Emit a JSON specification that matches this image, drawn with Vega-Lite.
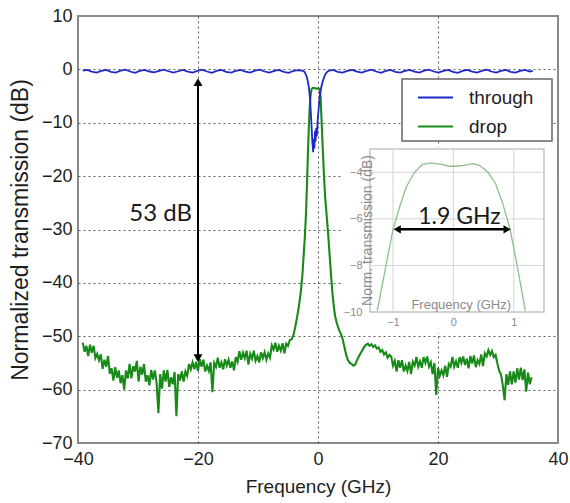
{
  "$schema": "https://vega.github.io/schema/vega-lite/v6.json",
  "width": 480,
  "height": 427,
  "autosize": {"type": "none"},
  "padding": {"left": 78, "top": 16, "right": 12, "bottom": 60},
  "background": "white",
  "config": {
    "view": {"stroke": "#8a8a8a", "strokeWidth": 2},
    "font": "Liberation Sans"
  },
  "datasets": {
    "drop": [
      {"f":-39.2,"dB":-51.2},{"f":-38.9,"dB":-52.9},{"f":-38.6,"dB":-51.8},{"f":-38.3,"dB":-53.7},{"f":-38.0,"dB":-51.6},{"f":-37.7,"dB":-53.1},{"f":-37.4,"dB":-51.8},{"f":-37.1,"dB":-54.1},{"f":-36.8,"dB":-53.3},{"f":-36.5,"dB":-54.5},{"f":-36.2,"dB":-53.4},{"f":-35.9,"dB":-56.1},{"f":-35.6,"dB":-54.4},{"f":-35.3,"dB":-55.7},{"f":-35.0,"dB":-53.7},{"f":-34.7,"dB":-57.0},{"f":-34.4,"dB":-56.0},{"f":-34.1,"dB":-58.3},{"f":-33.8,"dB":-55.8},{"f":-33.5,"dB":-57.8},{"f":-33.2,"dB":-56.4},{"f":-32.9,"dB":-58.8},{"f":-32.6,"dB":-57.3},{"f":-32.3,"dB":-60.0},{"f":-32.0,"dB":-56.4},{"f":-31.7,"dB":-57.9},{"f":-31.4,"dB":-55.2},{"f":-31.1,"dB":-57.9},{"f":-30.8,"dB":-55.6},{"f":-30.5,"dB":-56.6},{"f":-30.2,"dB":-54.6},{"f":-29.9,"dB":-58.5},{"f":-29.6,"dB":-55.7},{"f":-29.3,"dB":-57.2},{"f":-29.0,"dB":-55.2},{"f":-28.7,"dB":-58.5},{"f":-28.4,"dB":-57.3},{"f":-28.1,"dB":-59.2},{"f":-27.8,"dB":-56.3},{"f":-27.5,"dB":-58.1},{"f":-27.2,"dB":-56.4},{"f":-26.9,"dB":-58.7},{"f":-26.6,"dB":-64.4},{"f":-26.3,"dB":-57.1},{"f":-26.0,"dB":-59.8},{"f":-25.7,"dB":-56.4},{"f":-25.4,"dB":-58.5},{"f":-25.1,"dB":-56.3},{"f":-24.8,"dB":-59.5},{"f":-24.5,"dB":-57.7},{"f":-24.2,"dB":-59.0},{"f":-23.9,"dB":-56.7},{"f":-23.6,"dB":-65.0},{"f":-23.3,"dB":-57.1},{"f":-23.0,"dB":-58.3},{"f":-22.7,"dB":-56.6},{"f":-22.4,"dB":-58.5},{"f":-22.1,"dB":-56.6},{"f":-21.8,"dB":-57.4},{"f":-21.5,"dB":-55.2},{"f":-21.2,"dB":-56.2},{"f":-20.9,"dB":-54.9},{"f":-20.6,"dB":-56.2},{"f":-20.3,"dB":-54.8},{"f":-20.0,"dB":-56.5},{"f":-19.7,"dB":-54.3},{"f":-19.4,"dB":-55.7},{"f":-19.1,"dB":-54.4},{"f":-18.8,"dB":-56.6},{"f":-18.5,"dB":-55.5},{"f":-18.2,"dB":-56.5},{"f":-17.9,"dB":-54.9},{"f":-17.6,"dB":-60.5},{"f":-17.3,"dB":-55.0},{"f":-17.0,"dB":-55.7},{"f":-16.7,"dB":-54.0},{"f":-16.4,"dB":-55.9},{"f":-16.1,"dB":-54.9},{"f":-15.8,"dB":-56.2},{"f":-15.5,"dB":-54.3},{"f":-15.2,"dB":-55.5},{"f":-14.9,"dB":-54.4},{"f":-14.6,"dB":-55.9},{"f":-14.3,"dB":-54.7},{"f":-14.0,"dB":-56.4},{"f":-13.7,"dB":-53.9},{"f":-13.4,"dB":-54.8},{"f":-13.1,"dB":-52.8},{"f":-12.8,"dB":-54.4},{"f":-12.5,"dB":-53.1},{"f":-12.2,"dB":-54.1},{"f":-11.9,"dB":-52.7},{"f":-11.6,"dB":-55.3},{"f":-11.3,"dB":-53.3},{"f":-11.0,"dB":-54.2},{"f":-10.7,"dB":-52.7},{"f":-10.4,"dB":-54.6},{"f":-10.1,"dB":-53.7},{"f":-9.8,"dB":-54.9},{"f":-9.5,"dB":-53.0},{"f":-9.2,"dB":-54.1},{"f":-8.9,"dB":-53.0},{"f":-8.6,"dB":-54.4},{"f":-8.3,"dB":-53.2},{"f":-8.0,"dB":-54.0},{"f":-7.7,"dB":-51.7},{"f":-7.4,"dB":-52.5},{"f":-7.1,"dB":-51.2},{"f":-6.8,"dB":-52.9},{"f":-6.5,"dB":-51.8},{"f":-6.2,"dB":-52.7},{"f":-5.9,"dB":-51.3},{"f":-5.6,"dB":-53.2},{"f":-5.3,"dB":-51.4},{"f":-5.0,"dB":-51.8},{"f":-4.7,"dB":-50.7},{"f":-4.4,"dB":-50.6},{"f":-4.1,"dB":-49.8},
      {"f":-3.8,"dB":-48.3},{"f":-3.5,"dB":-46.5},{"f":-3.2,"dB":-44.5},{"f":-2.9,"dB":-42},{"f":-2.6,"dB":-38.5},{"f":-2.4,"dB":-35},{"f":-2.2,"dB":-31.5},{"f":-2.0,"dB":-27},{"f":-1.85,"dB":-22},{"f":-1.7,"dB":-16.5},{"f":-1.55,"dB":-11.5},{"f":-1.4,"dB":-7.5},{"f":-1.25,"dB":-5},{"f":-1.1,"dB":-3.8},{"f":-0.9,"dB":-3.5},{"f":-0.6,"dB":-3.5},{"f":-0.3,"dB":-3.6},{"f":0.0,"dB":-3.6},{"f":0.15,"dB":-3.6},{"f":0.3,"dB":-3.9},{"f":0.45,"dB":-5.5},{"f":0.55,"dB":-8.5},{"f":0.65,"dB":-11},{"f":0.8,"dB":-15},{"f":1.0,"dB":-20},{"f":1.2,"dB":-24},{"f":1.45,"dB":-27.5},{"f":1.7,"dB":-31},{"f":1.95,"dB":-35},{"f":2.2,"dB":-39},{"f":2.45,"dB":-42.5},{"f":2.7,"dB":-45},{"f":2.9,"dB":-46.5},{"f":3.2,"dB":-47.8},{"f":3.5,"dB":-48.8},{"f":3.8,"dB":-49.5},{"f":4.1,"dB":-50.5},{"f":4.4,"dB":-52},{"f":4.7,"dB":-53.5},{"f":5.0,"dB":-54.5},{"f":5.3,"dB":-55},{"f":5.6,"dB":-55.2},{"f":5.9,"dB":-55.5},{"f":6.2,"dB":-55.3},{"f":6.5,"dB":-54.5},{"f":6.8,"dB":-53.8},{"f":7.1,"dB":-53.2},{"f":7.4,"dB":-52.6},{"f":7.7,"dB":-52.0},{"f":8.0,"dB":-51.6},{"f":8.3,"dB":-51.4},{"f":8.6,"dB":-51.8},{"f":8.9,"dB":-51.5},{"f":9.2,"dB":-52.0},{"f":9.5,"dB":-51.7},{"f":9.8,"dB":-52.3},{"f":10.1,"dB":-52.1},{"f":10.4,"dB":-52.9},{"f":10.7,"dB":-52.6},{"f":11.0,"dB":-53.4},{"f":11.3,"dB":-53.0},{"f":11.6,"dB":-54.0},{"f":11.9,"dB":-53.5},
      {"f":12.2,"dB":-53.8},{"f":12.5,"dB":-55.5},{"f":12.8,"dB":-54.6},{"f":13.1,"dB":-56.6},{"f":13.4,"dB":-54.5},{"f":13.7,"dB":-55.9},{"f":14.0,"dB":-54.5},{"f":14.3,"dB":-56.6},{"f":14.6,"dB":-55.5},{"f":14.9,"dB":-56.5},{"f":15.2,"dB":-54.8},{"f":15.5,"dB":-57.1},{"f":15.8,"dB":-54.8},{"f":16.1,"dB":-55.5},{"f":16.4,"dB":-53.9},{"f":16.7,"dB":-55.7},{"f":17.0,"dB":-54.7},{"f":17.3,"dB":-55.9},{"f":17.6,"dB":-53.9},{"f":17.9,"dB":-55.0},{"f":18.2,"dB":-53.8},{"f":18.5,"dB":-55.7},{"f":18.8,"dB":-54.9},{"f":19.1,"dB":-57.1},{"f":19.4,"dB":-55.0},{"f":19.7,"dB":-61.0},{"f":20.0,"dB":-55.9},{"f":20.3,"dB":-57.4},{"f":20.6,"dB":-56.4},{"f":20.9,"dB":-57.3},{"f":21.2,"dB":-55.5},{"f":21.5,"dB":-57.6},{"f":21.8,"dB":-55.2},{"f":22.1,"dB":-55.7},{"f":22.4,"dB":-53.9},{"f":22.7,"dB":-55.7},{"f":23.0,"dB":-54.7},{"f":23.3,"dB":-55.9},{"f":23.6,"dB":-53.9},{"f":23.9,"dB":-55.0},{"f":24.2,"dB":-53.8},{"f":24.5,"dB":-55.4},{"f":24.8,"dB":-54.2},{"f":25.1,"dB":-56.0},{"f":25.4,"dB":-53.7},{"f":25.7,"dB":-55.1},{"f":26.0,"dB":-53.6},{"f":26.3,"dB":-55.8},{"f":26.6,"dB":-54.5},{"f":26.9,"dB":-55.2},{"f":27.2,"dB":-53.4},{"f":27.5,"dB":-55.6},{"f":27.8,"dB":-53.2},{"f":28.1,"dB":-53.8},{"f":28.4,"dB":-52.6},{"f":28.7,"dB":-53.5},{"f":29.0,"dB":-52.8},{"f":29.3,"dB":-53.9},{"f":29.6,"dB":-53.5},{"f":29.9,"dB":-55.1},{"f":30.2,"dB":-56.5},{"f":30.5,"dB":-57.2},{"f":30.8,"dB":-59.2},{"f":31.1,"dB":-62.0},{"f":31.4,"dB":-57.1},{"f":31.7,"dB":-59.1},{"f":32.0,"dB":-56.6},{"f":32.3,"dB":-59.0},{"f":32.6,"dB":-56.6},{"f":32.9,"dB":-58.7},{"f":33.2,"dB":-56.0},{"f":33.5,"dB":-58.1},{"f":33.8,"dB":-55.9},{"f":34.1,"dB":-58.2},{"f":34.4,"dB":-56.2},{"f":34.7,"dB":-60.4},{"f":35.0,"dB":-56.8},{"f":35.3,"dB":-59.0},{"f":35.6,"dB":-57.7}
    ],
    "through": [
      {"f":-39.2,"dB":-0.25},{"f":-38.5,"dB":-0.1},{"f":-37.7,"dB":-0.4},{"f":-36.9,"dB":-0.6},{"f":-36.1,"dB":-0.3},{"f":-35.3,"dB":-0.1},{"f":-34.5,"dB":-0.45},{"f":-33.7,"dB":-0.6},{"f":-32.9,"dB":-0.25},{"f":-32.1,"dB":-0.05},{"f":-31.3,"dB":-0.4},{"f":-30.5,"dB":-0.65},{"f":-29.7,"dB":-0.3},{"f":-28.9,"dB":-0.1},{"f":-28.1,"dB":-0.4},{"f":-27.3,"dB":-0.55},{"f":-26.5,"dB":-0.3},{"f":-25.7,"dB":-0.05},{"f":-24.9,"dB":-0.35},{"f":-24.1,"dB":-0.6},{"f":-23.3,"dB":-0.35},{"f":-22.5,"dB":-0.1},{"f":-21.7,"dB":-0.4},{"f":-20.9,"dB":-0.6},{"f":-20.1,"dB":-0.3},{"f":-19.3,"dB":-0.05},{"f":-18.5,"dB":-0.4},{"f":-17.7,"dB":-0.65},{"f":-16.9,"dB":-0.3},{"f":-16.1,"dB":-0.1},{"f":-15.3,"dB":-0.45},{"f":-14.5,"dB":-0.6},{"f":-13.7,"dB":-0.3},{"f":-12.9,"dB":-0.1},{"f":-12.1,"dB":-0.4},{"f":-11.3,"dB":-0.6},{"f":-10.5,"dB":-0.25},{"f":-9.7,"dB":-0.05},{"f":-8.9,"dB":-0.4},{"f":-8.1,"dB":-0.6},{"f":-7.3,"dB":-0.3},{"f":-6.5,"dB":-0.1},{"f":-5.7,"dB":-0.45},{"f":-4.9,"dB":-0.65},{"f":-4.1,"dB":-0.3},{"f":-3.3,"dB":-0.15},
      {"f":-2.5,"dB":-0.3},{"f":-2.2,"dB":-0.5},{"f":-1.9,"dB":-1.3},{"f":-1.7,"dB":-2.2},{"f":-1.5,"dB":-3.5},{"f":-1.3,"dB":-6},{"f":-1.1,"dB":-10},{"f":-0.95,"dB":-13.5},{"f":-0.8,"dB":-15.5},{"f":-0.7,"dB":-13},{"f":-0.6,"dB":-14.8},{"f":-0.5,"dB":-11.5},{"f":-0.4,"dB":-13.5},{"f":-0.3,"dB":-11},{"f":-0.2,"dB":-12.5},{"f":-0.05,"dB":-9.5},{"f":0.1,"dB":-7.5},{"f":0.3,"dB":-5},{"f":0.55,"dB":-3.3},{"f":0.8,"dB":-2.2},{"f":1.1,"dB":-1.2},{"f":1.4,"dB":-0.6},{"f":1.7,"dB":-0.3},
      {"f":2.5,"dB":-0.1},{"f":3.3,"dB":-0.45},{"f":4.1,"dB":-0.6},{"f":4.9,"dB":-0.3},{"f":5.7,"dB":-0.1},{"f":6.5,"dB":-0.4},{"f":7.3,"dB":-0.6},{"f":8.1,"dB":-0.3},{"f":8.9,"dB":-0.05},{"f":9.7,"dB":-0.4},{"f":10.5,"dB":-0.65},{"f":11.3,"dB":-0.3},{"f":12.1,"dB":-0.1},{"f":12.9,"dB":-0.45},{"f":13.7,"dB":-0.6},{"f":14.5,"dB":-0.3},{"f":15.3,"dB":-0.1},{"f":16.1,"dB":-0.4},{"f":16.9,"dB":-0.6},{"f":17.7,"dB":-0.25},{"f":18.5,"dB":-0.05},{"f":19.3,"dB":-0.4},{"f":20.1,"dB":-0.6},{"f":20.9,"dB":-0.3},{"f":21.7,"dB":-0.1},{"f":22.5,"dB":-0.45},{"f":23.3,"dB":-0.65},{"f":24.1,"dB":-0.3},{"f":24.9,"dB":-0.1},{"f":25.7,"dB":-0.4},{"f":26.5,"dB":-0.6},{"f":27.3,"dB":-0.3},{"f":28.1,"dB":-0.05},{"f":28.9,"dB":-0.4},{"f":29.7,"dB":-0.6},{"f":30.5,"dB":-0.3},{"f":31.3,"dB":-0.1},{"f":32.1,"dB":-0.45},{"f":32.9,"dB":-0.6},{"f":33.7,"dB":-0.3},{"f":34.5,"dB":-0.1},{"f":35.3,"dB":-0.4},{"f":35.8,"dB":-0.3}
    ],
    "inset": [
      {"f":-1.26,"dB":-9.94},{"f":-1.14,"dB":-8.34},{"f":-1.0,"dB":-6.46},{"f":-0.89,"dB":-5.49},{"f":-0.78,"dB":-4.63},{"f":-0.64,"dB":-3.99},{"f":-0.51,"dB":-3.66},{"f":-0.37,"dB":-3.6},{"f":-0.2,"dB":-3.66},{"f":-0.07,"dB":-3.74},{"f":0.04,"dB":-3.74},{"f":0.18,"dB":-3.7},{"f":0.32,"dB":-3.63},{"f":0.43,"dB":-3.7},{"f":0.57,"dB":-3.99},{"f":0.7,"dB":-4.49},{"f":0.81,"dB":-5.28},{"f":0.93,"dB":-6.35},{"f":1.04,"dB":-7.78},{"f":1.15,"dB":-9.36},{"f":1.19,"dB":-9.94}
    ]
  },
  "resolve": {"scale": {"x": "independent", "y": "independent"}, "axis": {"x": "independent", "y": "independent"}},
  "layer": [
    {
      "layer": [
        {
          "data": {"name": "drop"},
          "mark": {"type": "line", "strokeWidth": 2.1},
          "encoding": {
            "x": {"field": "f", "type": "quantitative", "scale": {"domain": [-40, 40], "nice": false, "zero": false},
              "axis": {"values": [-40, -20, 0, 20, 40], "grid": true, "gridDash": [2, 3], "gridColor": "#2a2a2a",
                "gridOpacity": {"condition": {"test": "datum.value === -40 || datum.value === 40", "value": 0}, "value": 0.75},
                "ticks": false, "domain": false, "labelFlush": false, "labelOverlap": false,
                "labelFont": "Liberation Sans", "labelFontSize": 18, "labelColor": "#1e1e1e", "labelPadding": 7,
                "title": "Frequency (GHz)", "titleFont": "Liberation Sans", "titleFontSize": 19, "titleFontWeight": "normal", "titleColor": "#1e1e1e", "titlePadding": 9}},
            "y": {"field": "dB", "type": "quantitative", "scale": {"domain": [-70, 10], "nice": false, "zero": false},
              "axis": {"values": [-70, -60, -50, -40, -30, -20, -10, 0, 10], "grid": true, "gridDash": [2, 3], "gridColor": "#2a2a2a",
                "gridOpacity": {"condition": {"test": "datum.value === -70 || datum.value === 10", "value": 0}, "value": 0.75},
                "ticks": false, "domain": false, "labelFlush": false, "labelOverlap": false,
                "labelFont": "Liberation Sans", "labelFontSize": 18, "labelColor": "#1e1e1e", "labelPadding": 6,
                "title": "Normalized transmission (dB)", "titleFont": "Liberation Sans", "titleFontSize": 23, "titleFontWeight": "normal", "titleColor": "#1e1e1e", "titlePadding": 9}},
            "color": {"datum": "drop", "type": "nominal",
              "scale": {"domain": ["through", "drop"], "range": ["#1e28c8", "#178a17"]},
              "legend": {"orient": "none", "legendX": 339, "legendY": 63, "title": null, "symbolType": "stroke", "symbolSize": 1225, "symbolStrokeWidth": 2,
                "labelFont": "Liberation Sans", "labelFontSize": 19, "labelColor": "#1e1e1e", "labelOffset": 15, "padding": 0, "rowPadding": -9,
                "strokeColor": null, "fillColor": null}}
          }
        },
        {
          "data": {"name": "through"},
          "mark": {"type": "line", "strokeWidth": 1.8},
          "encoding": {
            "x": {"field": "f", "type": "quantitative"},
            "y": {"field": "dB", "type": "quantitative"},
            "color": {"datum": "through", "type": "nominal"}
          }
        },
        {
          "data": {"values": [{}]},
          "mark": {"type": "rect", "fill": "white"},
          "encoding": {"x": {"datum": 4.0}, "x2": {"datum": 39.6}, "y": {"datum": -14.5}, "y2": {"datum": -49.4}}
        },
        {
          "data": {"values": [{}]},
          "mark": {"type": "rect", "fill": "white", "stroke": "#666666", "strokeWidth": 1.5},
          "encoding": {"x": {"datum": 14.0}, "x2": {"datum": 39.0}, "y": {"datum": -1.8}, "y2": {"datum": -13.4}}
        },
        {
          "data": {"values": [{}]},
          "mark": {"type": "rule", "strokeWidth": 2, "color": "black"},
          "encoding": {"x": {"datum": -20}, "y": {"datum": -2.6}, "y2": {"datum": -54}}
        },
        {
          "data": {"values": [{}]},
          "mark": {"type": "point", "shape": "triangle-up", "filled": true, "color": "black", "size": 80, "opacity": 1},
          "encoding": {"x": {"datum": -20}, "y": {"datum": -2.4}}
        },
        {
          "data": {"values": [{}]},
          "mark": {"type": "point", "shape": "triangle-down", "filled": true, "color": "black", "size": 80, "opacity": 1},
          "encoding": {"x": {"datum": -20}, "y": {"datum": -54.1}}
        },
        {
          "data": {"values": [{"label": "53 dB"}]},
          "mark": {"type": "text", "font": "Lato", "fontSize": 24, "align": "right", "baseline": "alphabetic", "color": "#1a1a1a"},
          "encoding": {"x": {"datum": -21}, "y": {"datum": -28.5}, "text": {"field": "label"}}
        }
      ]
    },
    {
      "layer": [
        {
          "data": {"values": [{}]},
          "mark": {"type": "rect", "fillOpacity": 0, "stroke": "#c4c4c4", "strokeWidth": 1.5},
          "encoding": {
            "x": {"datum": -1.38, "type": "quantitative", "scale": {"domain": [-1.38, 1.5], "range": [292, 466], "nice": false, "zero": false},
              "axis": {"orient": "bottom", "offset": -131, "values": [-1, 0, 1], "format": "d", "domain": false, "ticks": false, "grid": false, "labelFlush": false,
                "labelFont": "Liberation Sans", "labelFontSize": 11, "labelColor": "#8a8a8a", "labelPadding": 4, "title": null, "zindex": 1}},
            "x2": {"datum": 1.5},
            "y": {"datum": -10, "type": "quantitative", "scale": {"domain": [-10, -3], "range": [296, 133], "nice": false, "zero": false},
              "axis": {"orient": "left", "offset": -292, "values": [-10, -8, -6, -4], "format": "d", "domain": false, "ticks": false, "grid": false,
                "labelFont": "Liberation Sans", "labelFontSize": 11, "labelColor": "#8a8a8a", "labelPadding": 8, "title": null, "zindex": 1}},
            "y2": {"datum": -3}
          }
        },
        {
          "data": {"values": [{"f": -1}, {"f": 0}, {"f": 1}]},
          "mark": {"type": "rule", "color": "#d4d4d4", "strokeWidth": 1},
          "encoding": {"x": {"field": "f", "type": "quantitative"}, "y": {"datum": -10}, "y2": {"datum": -3}}
        },
        {
          "data": {"values": [{"dB": -4}, {"dB": -6}, {"dB": -8}]},
          "mark": {"type": "rule", "color": "#d4d4d4", "strokeWidth": 1},
          "encoding": {"y": {"field": "dB", "type": "quantitative"}, "x": {"datum": -1.38}, "x2": {"datum": 1.5}}
        },
        {
          "data": {"name": "inset"},
          "mark": {"type": "line", "color": "#8cbf8c", "strokeWidth": 1.3},
          "encoding": {"x": {"field": "f", "type": "quantitative"}, "y": {"field": "dB", "type": "quantitative"}}
        },
        {
          "data": {"values": [{}]},
          "mark": {"type": "rule", "strokeWidth": 2.5, "color": "black"},
          "encoding": {"x": {"datum": -0.9}, "x2": {"datum": 0.86}, "y": {"datum": -6.45}}
        },
        {
          "data": {"values": [{}]},
          "mark": {"type": "point", "shape": "triangle-left", "filled": true, "color": "black", "size": 70, "opacity": 1},
          "encoding": {"x": {"datum": -0.93}, "y": {"datum": -6.45}}
        },
        {
          "data": {"values": [{}]},
          "mark": {"type": "point", "shape": "triangle-right", "filled": true, "color": "black", "size": 70, "opacity": 1},
          "encoding": {"x": {"datum": 0.89}, "y": {"datum": -6.45}}
        },
        {
          "data": {"values": [{"label": "1.9 GHz"}]},
          "mark": {"type": "text", "font": "Lato", "fontSize": 23, "align": "center", "baseline": "alphabetic", "color": "#1a1a1a"},
          "encoding": {"x": {"datum": 0.1}, "y": {"datum": -6.2}, "text": {"field": "label"}}
        },
        {
          "data": {"values": [{"label": "Frequency (GHz)"}]},
          "mark": {"type": "text", "font": "Liberation Sans", "fontSize": 13, "align": "center", "baseline": "middle", "color": "#8a8a8a"},
          "encoding": {"x": {"datum": 0.13}, "y": {"datum": -9.7}, "text": {"field": "label"}}
        },
        {
          "data": {"values": [{"label": "Norm. transmission (dB)"}]},
          "mark": {"type": "text", "font": "Liberation Sans", "fontSize": 14, "align": "center", "baseline": "middle", "angle": 270, "color": "#8a8a8a"},
          "encoding": {"x": {"datum": -1.42}, "y": {"datum": -6.5}, "text": {"field": "label"}}
        }
      ]
    }
  ]
}
